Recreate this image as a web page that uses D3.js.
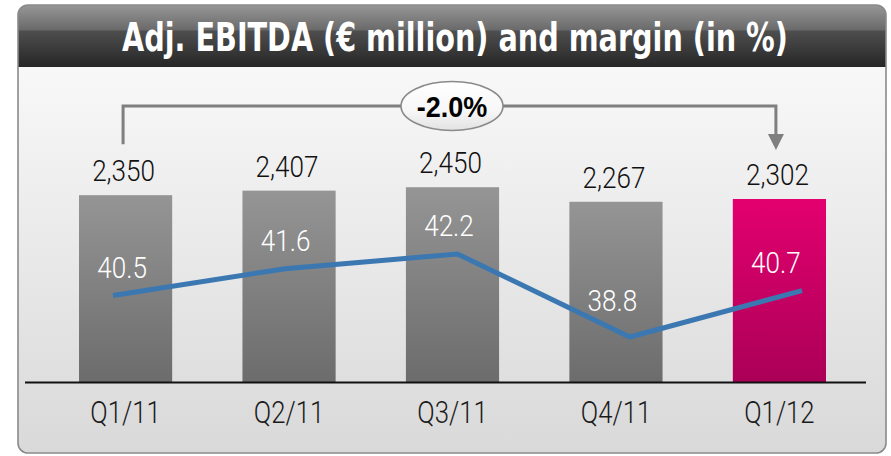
<!DOCTYPE html>
<html><head><meta charset="utf-8">
<script src="https://cdn.jsdelivr.net/npm/d3@7"></script>
<style>html,body{margin:0;padding:0;background:#fff;} svg{display:block}</style>
</head><body>
<svg id="c" width="891" height="456"></svg>
<script>
// ---- data ----
const categories = ["Q1/11", "Q2/11", "Q3/11", "Q4/11", "Q1/12"];
const ebitda = [2350, 2407, 2450, 2267, 2302];
const margin = [40.5, 41.6, 42.2, 38.8, 40.7];
const highlight = ["Q1/12"];
const changeLabel = "-2.0%";
const titleText = "Adj. EBITDA (€ million) and margin (in %)";

const svg = d3.select("#c");
const defs = svg.append("defs");

function linGrad(id, stops) {
  const g = defs.append("linearGradient").attr("id", id)
    .attr("x1", 0).attr("y1", 0).attr("x2", 0).attr("y2", 1);
  stops.forEach(s => g.append("stop").attr("offset", s[0]).attr("stop-color", s[1]));
  return g;
}
linGrad("hdr", [[0, "#979797"], [0.40, "#6a6a6a"], [0.42, "#4e4e4e"], [1, "#262626"]]);
linGrad("bg", [[0, "#fdfdfd"], [1, "#d9d9d9"]]);
linGrad("grayBar", [[0, "#959595"], [1, "#6c6c6c"]]);
linGrad("pinkBar", [[0, "#e3006f"], [1, "#ab0057"]]);
linGrad("ell", [[0, "#ffffff"], [0.6, "#f7f7f7"], [1, "#e2e2e2"]]);

// frame
const F = {x: 18, y: 5, w: 868, h: 448, r: 10};
defs.append("clipPath").attr("id", "frameClip").append("rect")
  .attr("x", F.x).attr("y", F.y).attr("width", F.w).attr("height", F.h).attr("rx", F.r);
const fg = svg.append("g").attr("clip-path", "url(#frameClip)");
fg.append("rect").attr("x", F.x).attr("y", F.y).attr("width", F.w).attr("height", F.h).attr("fill", "url(#bg)");
fg.append("rect").attr("x", F.x).attr("y", F.y).attr("width", F.w).attr("height", 62).attr("fill", "url(#hdr)");
svg.append("rect").attr("x", F.x).attr("y", F.y).attr("width", F.w).attr("height", F.h).attr("rx", F.r)
  .attr("fill", "none").attr("stroke", "#8a8a8a").attr("stroke-width", 1.6);

// title (fit to reference width by horizontal scaling)
const tt = svg.append("text").attr("text-anchor", "middle")
  .attr("fill", "#fff").attr("font-family", "'DejaVu Sans Condensed','DejaVu Sans',sans-serif")
  .style("font-stretch", "condensed").attr("font-weight", "bold").attr("font-size", 39)
  .text(titleText);
const tl = tt.node().getComputedTextLength();
tt.attr("transform", `translate(455,51) scale(${666 / tl},1)`);

// scales
const x = d3.scaleBand().domain(categories).range([79, 826]).paddingInner(0.43).paddingOuter(0);
const y = d3.scaleLinear().domain([0, 3000]).range([382, 143.5]);
const xl = d3.scalePoint().domain(categories).range([113, 802]);
const ym = d3.scaleLinear().domain([38, 43]).range([356.5, 234.5]);
const cx = c => x(c) + x.bandwidth() / 2;

const data = categories.map((c, i) => ({c, v: ebitda[i], m: margin[i]}));

// bars
svg.append("g").selectAll("rect").data(data).join("rect")
  .attr("x", d => x(d.c)).attr("width", x.bandwidth())
  .attr("y", d => y(d.v)).attr("height", d => y(0) - y(d.v))
  .attr("fill", d => highlight.includes(d.c) ? "url(#pinkBar)" : "url(#grayBar)");

// axis line
svg.append("line").attr("x1", 25).attr("x2", 866).attr("y1", y(0) + 0.5).attr("y2", y(0) + 0.5)
  .attr("stroke", "#111").attr("stroke-width", 2);

// category axis
const ax = svg.append("g").attr("transform", `translate(0,${y(0)})`)
  .call(d3.axisBottom(x).tickSize(0).tickPadding(0));
ax.select(".domain").remove();
ax.selectAll("text").attr("y", 41).attr("dy", 0)
  .attr("font-family", "Roboto, 'Liberation Sans', sans-serif").attr("font-weight", 300)
  .attr("font-size", 31).attr("fill", "#1a1a1a").attr("transform", "scale(0.83,1)");

// value labels
const fmt = d3.format(",");
svg.append("g").selectAll("text").data(data).join("text")
  .attr("transform", d => `translate(${cx(d.c) - 2},${y(d.v) - 14}) scale(0.9,1)`)
  .attr("text-anchor", "middle").attr("font-family", "Roboto, 'Liberation Sans', sans-serif")
  .attr("font-weight", 300).attr("font-size", 29).attr("fill", "#111")
  .text(d => fmt(d.v));

// margin line
svg.append("path").datum(data)
  .attr("d", d3.line().x(d => xl(d.c)).y(d => ym(d.m)))
  .attr("fill", "none").attr("stroke", "#3b78b2").attr("stroke-width", 5).attr("stroke-linejoin", "miter");

// margin labels
const mfmt = d3.format(".1f");
svg.append("g").selectAll("text").data(data).join("text")
  .attr("transform", d => `translate(${cx(d.c) - 3.5},${ym(d.m) - (d.m === d3.min(margin) ? 26 : 18)}) scale(0.9,1)`)
  .attr("text-anchor", "middle").attr("font-family", "Roboto, 'Liberation Sans', sans-serif")
  .attr("font-weight", 300).attr("font-size", 29).attr("fill", "#fff")
  .text(d => mfmt(d.m));

// change bracket
const first = categories[0], last = categories[categories.length - 1];
const bx0 = cx(first) - 2.5, bx1 = cx(last) - 3.5, by = 106;
svg.append("path")
  .attr("d", `M${bx0},${y(ebitda[0]) - 51}V${by}H${bx1}V${y(ebitda[ebitda.length-1]) - 65}`)
  .attr("fill", "none").attr("stroke", "#7f7f7f").attr("stroke-width", 3);
const tipY = y(ebitda[ebitda.length-1]) - 49;
svg.append("path")
  .attr("d", `M${bx1 - 8},${tipY - 16}L${bx1 + 8},${tipY - 16}L${bx1},${tipY}Z`)
  .attr("fill", "#7f7f7f");
const ex = (bx0 + bx1) / 2 + 2.5;
svg.append("ellipse").attr("cx", ex).attr("cy", by).attr("rx", 51).attr("ry", 24.5)
  .attr("fill", "url(#ell)").attr("stroke", "#8a8a8a").attr("stroke-width", 1.6);
svg.append("text").attr("transform", `translate(${ex},${by + 11}) scale(0.9,1)`)
  .attr("text-anchor", "middle").attr("font-family", "'Liberation Sans', Arial, sans-serif")
  .attr("font-weight", "bold").attr("font-size", 30).attr("fill", "#000")
  .text(changeLabel);
</script>
</body></html>
